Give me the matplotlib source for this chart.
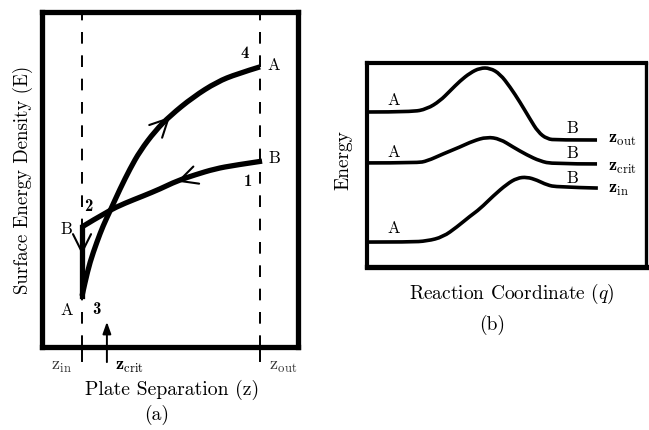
import numpy as np
import matplotlib
matplotlib.use("Agg")
import matplotlib.pyplot as plt
from matplotlib.path import Path
from matplotlib.patches import PathPatch

plt.rcParams['font.family'] = ['cmr10', 'DejaVu Serif']
plt.rcParams['mathtext.fontset'] = 'cm'
plt.rcParams['axes.unicode_minus'] = False

# ---------------- data: panel (a) ----------------
z_in, z_crit, z_out = 15.6, 25.3, 85.0
# curve through states 3 -> 4 (state A)
curveA_z = [15.6, 16.8, 18.7, 21.4, 23.8, 26.5, 30.4, 34.3, 38.2, 44.1, 49.9, 58.9, 68.2, 76.0, 85.0]
curveA_E = [15.2, 19.4, 25.3, 31.3, 36.1, 40.5, 47.1, 53.1, 58.4, 64.4, 68.9, 74.5, 79.0, 81.4, 83.5]
# curve through states 2 -> 1 (state B)
curveB_z = [15.6, 25.7, 32.4, 39.4, 46.0, 52.6, 59.6, 67.4, 75.2, 85.8]
curveB_E = [35.8, 40.5, 42.9, 45.0, 47.1, 49.5, 51.3, 53.1, 54.2, 55.4]

# ---------------- data: panel (b) ----------------
q_out = [0.7, 16.1, 21.5, 26.1, 29.7, 33.3, 36.9, 40.4, 44.0, 47.6, 51.2, 54.7, 58.3, 61.2, 64.4, 68.0, 82.3]
G_out = [75.8, 75.8, 77.3, 81.2, 86.1, 91.0, 94.9, 97.3, 97.3, 94.4, 88.0, 80.7, 72.4, 66.0, 62.6, 62.1, 62.1]
q_crit = [0.7, 17.9, 21.5, 27.2, 33.3, 37.9, 42.9, 47.6, 52.2, 57.2, 61.9, 66.5, 82.3]
G_crit = [50.9, 50.9, 51.8, 55.3, 58.7, 61.6, 63.6, 62.6, 58.7, 54.8, 51.8, 50.4, 50.4]
q_in = [0.7, 15.4, 21.5, 27.2, 32.2, 36.9, 40.4, 45.1, 50.1, 53.7, 57.2, 60.8, 64.4, 68.0, 82.6]
G_in = [12.2, 12.2, 12.7, 14.7, 19.6, 24.9, 28.4, 34.7, 40.6, 43.5, 44.0, 42.5, 40.1, 39.1, 38.6]

W, H = 649, 431
fig = plt.figure(figsize=(W / 100, H / 100), dpi=100)


def rect(l, r, t, b):
    return [l / W, 1 - b / H, (r - l) / W, (b - t) / H]


def ftext(x, y, s, **kw):
    fig.text(x / W, 1 - y / H, s, ha='center', va='center', **kw)


def smooth_path(xs, ys):
    """Quadratic Bezier path using the read points as control points."""
    pts = list(zip(xs, ys))
    verts = [pts[0]]
    codes = [Path.MOVETO]
    n = len(pts)
    for i in range(1, n - 2):
        mid = ((pts[i][0] + pts[i + 1][0]) / 2, (pts[i][1] + pts[i + 1][1]) / 2)
        verts += [pts[i], mid]
        codes += [Path.CURVE3, Path.CURVE3]
    verts += [pts[n - 2], pts[n - 1]]
    codes += [Path.CURVE3, Path.CURVE3]
    return Path(verts, codes)


def draw_smooth(ax, xs, ys, lw):
    ax.add_patch(PathPatch(smooth_path(xs, ys), fill=False, edgecolor='black', lw=lw,
                           capstyle='butt', joinstyle='round'))


# ---------------- panel (a) ----------------
axa = fig.add_axes(rect(42, 298.5, 12.5, 348))
axa.set_xlim(0, 100)
axa.set_ylim(0, 100)
axa.set_xticks([])
axa.set_yticks([])
for s in axa.spines.values():
    s.set_linewidth(3.8)

for zz in (z_in, z_out):
    axa.plot([zz, zz], [0, 100], color='black', lw=1.4, dashes=(6, 6))
    axa.plot([zz, zz], [0, -4.2], color='black', lw=1.4, clip_on=False)

lw_c = 3.8
draw_smooth(axa, curveA_z, curveA_E, lw_c)
draw_smooth(axa, curveB_z, curveB_E, lw_c)
axa.plot([z_in, z_in], [curveB_E[0], curveA_E[0]], color='black', lw=lw_c,
         solid_capstyle='projecting')

arr = dict(arrowstyle='->,head_length=1.3,head_width=0.65', color='black', lw=1.5,
           shrinkA=0, shrinkB=0)
axa.annotate('', xy=(curveA_z[10], curveA_E[10] - 0.3), xytext=(curveA_z[9], curveA_E[9] - 0.3),
             arrowprops=arr)
axa.annotate('', xy=(curveB_z[5], curveB_E[5] - 0.2), xytext=(curveB_z[6], curveB_E[6] - 0.2),
             arrowprops=arr)
vmid = 0.4 * curveA_E[0] + 0.6 * curveB_E[0]
axa.annotate('', xy=(z_in, vmid), xytext=(z_in, curveB_E[0]), arrowprops=arr)

axa.annotate('', xy=(z_crit, 7.5), xytext=(z_crit, -4.5), xycoords='data',
             arrowprops=dict(arrowstyle='-|>,head_length=0.7,head_width=0.25',
                             color='black', lw=1.4, shrinkA=0, shrinkB=0),
             annotation_clip=False)

fs = 12
bold = dict(fontsize=fs, family='cmb10')
ftext(245, 54, '4', **bold)
ftext(274, 65, 'A', fontsize=fs)
ftext(274, 158, 'B', fontsize=fs)
ftext(248, 182, '1', **bold)
ftext(88, 207, '2', **bold)
ftext(66, 229, 'B', fontsize=fs)
ftext(67, 310, 'A', fontsize=fs)
ftext(96, 310, '3', **bold)

ftext(62, 367, r'$\mathrm{z}_{\mathrm{in}}$', fontsize=13, color='#333333')
ftext(129, 367, r'$\mathbf{z}_{\mathrm{crit}}$', fontsize=13)
ftext(283, 367, r'$\mathrm{z}_{\mathrm{out}}$', fontsize=13, color='#333333')
ftext(172, 390, 'Plate Separation (z)', fontsize=14.2)
ftext(157, 415, '(a)', fontsize=14)
ftext(23, 180, 'Surface Energy Density (E)', fontsize=13.6, rotation=90)

# ---------------- panel (b) ----------------
axb = fig.add_axes(rect(367, 646.5, 63.5, 268))
axb.set_xlim(0, 100)
axb.set_ylim(0, 100)
axb.set_xticks([])
axb.set_yticks([])
for s in axb.spines.values():
    s.set_linewidth(3.0)
axb.spines['bottom'].set_linewidth(3.8)
axb.spines['right'].set_linewidth(2.4)

for qq, gg in ((q_out, G_out), (q_crit, G_crit), (q_in, G_in)):
    draw_smooth(axb, qq, gg, 2.6)

for y in (100, 152, 228):
    ftext(394, y, 'A', fontsize=fs)
for y in (128, 153, 178):
    ftext(572, y, 'B', fontsize=fs)
fig.text(608 / W, 1 - 140 / H, r'$\mathbf{z}_{\mathrm{out}}$', fontsize=13, ha='left', va='center')
fig.text(608 / W, 1 - 168 / H, r'$\mathbf{z}_{\mathrm{crit}}$', fontsize=13, ha='left', va='center')
fig.text(608 / W, 1 - 190 / H, r'$\mathbf{z}_{\mathrm{in}}$', fontsize=13, ha='left', va='center')
ftext(343, 160, 'Energy', fontsize=14, rotation=90)
ftext(512, 294, r'Reaction Coordinate ($q$)', fontsize=14)
ftext(492, 325, '(b)', fontsize=14)

fig.savefig('out.png', dpi=100)
